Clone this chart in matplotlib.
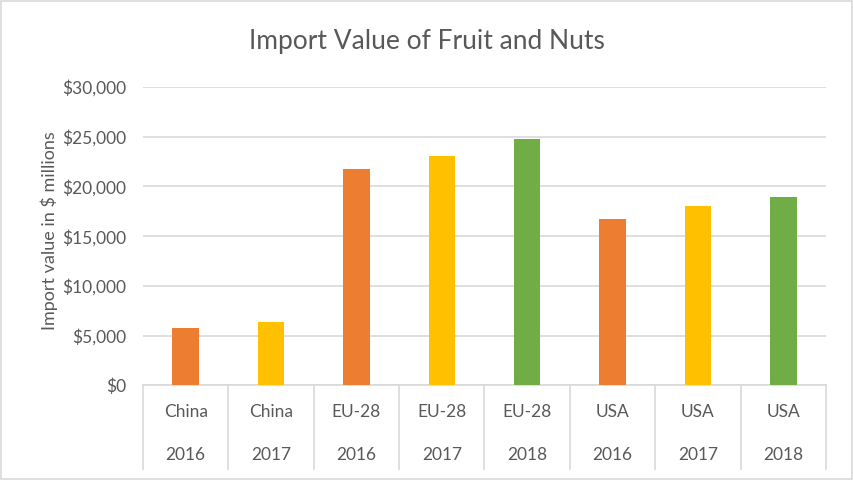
"""Import value of fruit and nuts, Excel-style multi-level category bar chart."""
import matplotlib
matplotlib.use("Agg")
import matplotlib.pyplot as plt
from matplotlib.patches import Rectangle
from matplotlib.ticker import FuncFormatter, MultipleLocator

countries = ["China", "China", "EU-28", "EU-28", "EU-28", "USA", "USA", "USA"]
years = ["2016", "2017", "2016", "2017", "2018", "2016", "2017", "2018"]
values = [5780, 6380, 21760, 23070, 24770, 16730, 18040, 18940]

year_colors = {"2016": "#ED7D31", "2017": "#FFC000", "2018": "#70AD47"}
text_color = "#595959"
grid_color = "#D9D9D9"

plt.rcParams["font.family"] = ["Lato", "DejaVu Sans"]

fig = plt.figure(figsize=(8.54, 4.8), dpi=100)
ax = fig.add_axes([0.1674, 0.1969, 0.7998, 0.6219])

x = list(range(len(values)))
ax.bar(x, values, width=0.31, color=[year_colors[y] for y in years], zorder=3)

ax.set_xlim(-0.5, len(values) - 0.5)
ax.set_ylim(0, 30000)
ax.yaxis.set_major_locator(MultipleLocator(5000))
ax.yaxis.set_major_formatter(FuncFormatter(lambda v, _: f"${v:,.0f}"))
ax.grid(axis="y", color=grid_color, linewidth=1.2, zorder=0)
ax.tick_params(axis="y", length=0, pad=12, labelsize=12.5, labelcolor=text_color)
ax.set_xticks([])
for side in ["top", "right", "left"]:
    ax.spines[side].set_visible(False)
ax.spines["bottom"].set_color(grid_color)
ax.spines["bottom"].set_linewidth(1.2)

# two-row category labels with separators
trans = ax.get_xaxis_transform()
for i, (c, yr) in enumerate(zip(countries, years)):
    ax.text(i, -0.089, c, transform=trans, ha="center", va="center",
            fontsize=12.5, color=text_color)
    ax.text(i, -0.233, yr, transform=trans, ha="center", va="center",
            fontsize=12.5, color=text_color)
for b in range(len(values) + 1):
    ax.plot([b - 0.5, b - 0.5], [0, -0.28], transform=trans, color=grid_color,
            linewidth=1.2, clip_on=False)

ax.set_ylabel("Import value in $ millions", fontsize=13, color=text_color)
ax.yaxis.set_label_coords(-0.1244, 0.518)
fig.text(0.5, 0.9125, "Import Value of Fruit and Nuts", ha="center", va="center",
         fontsize=19, color=text_color)

fig.patches.append(Rectangle((0.001, 0.003), 0.997, 0.994, transform=fig.transFigure,
                             fill=False, edgecolor=grid_color, linewidth=1.2))

fig.savefig("out.png", dpi=100)
